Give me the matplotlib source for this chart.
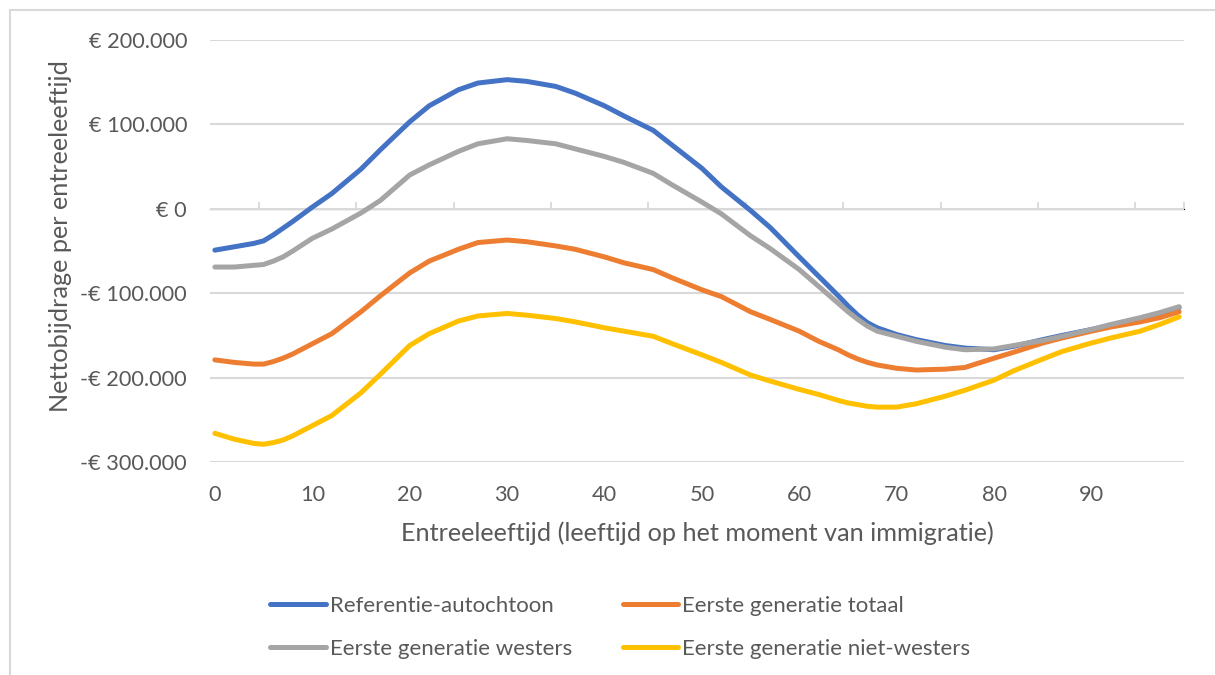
import matplotlib
matplotlib.use("Agg")
import matplotlib.pyplot as plt
from matplotlib.ticker import FuncFormatter
import numpy as np

ages = [0, 2, 4, 5, 6, 7, 8, 10, 12, 15, 17, 20, 22, 25, 27, 30, 32, 35, 37, 40, 42, 45, 47,
        50, 52, 55, 57, 60, 62, 64, 65, 66, 67, 68, 70, 72, 75, 77, 80, 82, 85, 87, 90, 92, 95, 97, 99]

referentie_autochtoon = [-49000, -45000, -41000, -38000, -31000, -23000, -15000, 2000, 18000, 47000, 70000,
                         103000, 122000, 141000, 149000, 153000, 151000, 145000, 137000, 122000, 110000, 93000, 75000,
                         48000, 26000, -2000, -22000, -57000, -80000, -103000, -115000, -126000, -135000, -141000,
                         -149000, -155000, -162000, -165000, -167000, -163000, -155000, -150000, -143000, -138000,
                         -130000, -124000, -117000]
eerste_gen_totaal = [-179000, -182000, -184000, -184000, -181000, -177000, -172000, -160000, -148000, -122000, -103000,
                     -76000, -62000, -48000, -40000, -37000, -39000, -44000, -48000, -57000, -64000, -72000, -82000,
                     -96000, -104000, -122000, -131000, -145000, -157000, -167000, -173000, -178000, -182000, -185000,
                     -189000, -191000, -190000, -188000, -177000, -170000, -159000, -153000, -145000, -140000,
                     -134000, -129000, -122000]
eerste_gen_westers = [-69000, -69000, -67000, -66000, -62000, -57000, -50000, -35000, -24000, -5000, 10000,
                      40000, 52000, 68000, 77000, 83000, 81000, 77000, 71000, 62000, 55000, 42000, 28000,
                      8000, -6000, -32000, -47000, -72000, -92000, -112000, -122000, -131000, -139000, -145000,
                      -151000, -157000, -164000, -167000, -166000, -162000, -156000, -151000, -143000, -137000,
                      -129000, -123000, -116000]
eerste_gen_niet_westers = [-266000, -273000, -278000, -279000, -277000, -274000, -269000, -257000, -245000, -218000, -196000,
                           -162000, -148000, -133000, -127000, -124000, -126000, -130000, -134000, -141000, -145000, -151000, -160000,
                           -173000, -182000, -197000, -204000, -214000, -220000, -227000, -230000, -232000, -234000, -235000,
                           -235000, -231000, -222000, -215000, -203000, -192000, -178000, -169000, -159000, -153000,
                           -145000, -137000, -128000]

series = [
    ("Referentie-autochtoon", referentie_autochtoon, "#4472C4"),
    ("Eerste generatie totaal", eerste_gen_totaal, "#ED7D31"),
    ("Eerste generatie westers", eerste_gen_westers, "#A5A5A5"),
    ("Eerste generatie niet-westers", eerste_gen_niet_westers, "#FFC000"),
]

x_ticks = [0, 10, 20, 30, 40, 50, 60, 70, 80, 90]
y_ticks = [-300000, -200000, -100000, 0, 100000, 200000]

TXT = "#595959"
GRID = "#D9D9D9"
plt.rcParams['font.family'] = ['Lato', 'DejaVu Sans']

fig = plt.figure(figsize=(12.15, 6.75), dpi=100)
W, H = 1215, 675
ax = fig.add_axes([210 / W, (H - 462) / H, 974 / W, 422 / H])

lines = {}
for name, vals, col in series:
    lines[name], = ax.plot(ages, vals, color=col, lw=3.6, label=name,
                           solid_capstyle='round', solid_joinstyle='round', zorder=3)

ax.set_xlim(-0.5, 99.5)
ax.set_ylim(-300000, 200000)
ax.set_yticks(y_ticks)
ax.set_xticks(x_ticks)

def euro(v, pos):
    v = int(round(v))
    if v == 0:
        return "€ 0"
    s = f"{abs(v):,}".replace(",", ".")
    return ("-€ " if v < 0 else "€ ") + s

ax.yaxis.set_major_formatter(FuncFormatter(euro))
ax.grid(axis='y', color=GRID, lw=1.5, zorder=0)
for sp in ax.spines.values():
    sp.set_visible(False)
ax.tick_params(axis='both', length=0, labelsize=15.7, colors=TXT)
ax.tick_params(axis='y', pad=16.5)
ax.tick_params(axis='x', pad=16.5)

# category axis crossing at zero with tick marks
sec = ax.secondary_xaxis(0.6)
sec.set_xticks(list(np.arange(4.5, 100, 10)) + [99.5])
sec.set_xticklabels([])
sec.tick_params(axis='x', direction='out', length=5, width=1.3, color=GRID,
                labelbottom=False, labeltop=False)
sec.spines['bottom'].set_color(GRID)
sec.spines['bottom'].set_linewidth(1.5)

ax.set_xlabel("Entreeleeftijd (leeftijd op het moment van immigratie)", fontsize=18.2, color=TXT)
ax.xaxis.set_label_coords(0.5, -0.14)
ax.set_ylabel("Nettobijdrage per entreeleeftijd", fontsize=18.2, color=TXT)
ax.yaxis.set_label_coords(-0.142, 0.535)

order = ["Referentie-autochtoon", "Eerste generatie westers",
         "Eerste generatie totaal", "Eerste generatie niet-westers"]
leg = fig.legend([lines[n] for n in order], order, ncol=2, loc='upper left',
                 bbox_to_anchor=(250 / W, 1 - 576 / H),
                 frameon=False, fontsize=16, labelcolor=TXT, handlelength=2.5,
                 handletextpad=0.18, columnspacing=2.3, labelspacing=1.03)
for l in leg.get_lines():
    l.set_linewidth(3.6)

# chart area border (left and top edge)
fig.add_artist(plt.Line2D([10 / W, 10 / W], [0, 1 - 10 / H], color=GRID, lw=1.5))
fig.add_artist(plt.Line2D([10 / W, 1], [1 - 10 / H, 1 - 10 / H], color=GRID, lw=1.5))

fig.savefig("out.png", dpi=100, facecolor="white")
